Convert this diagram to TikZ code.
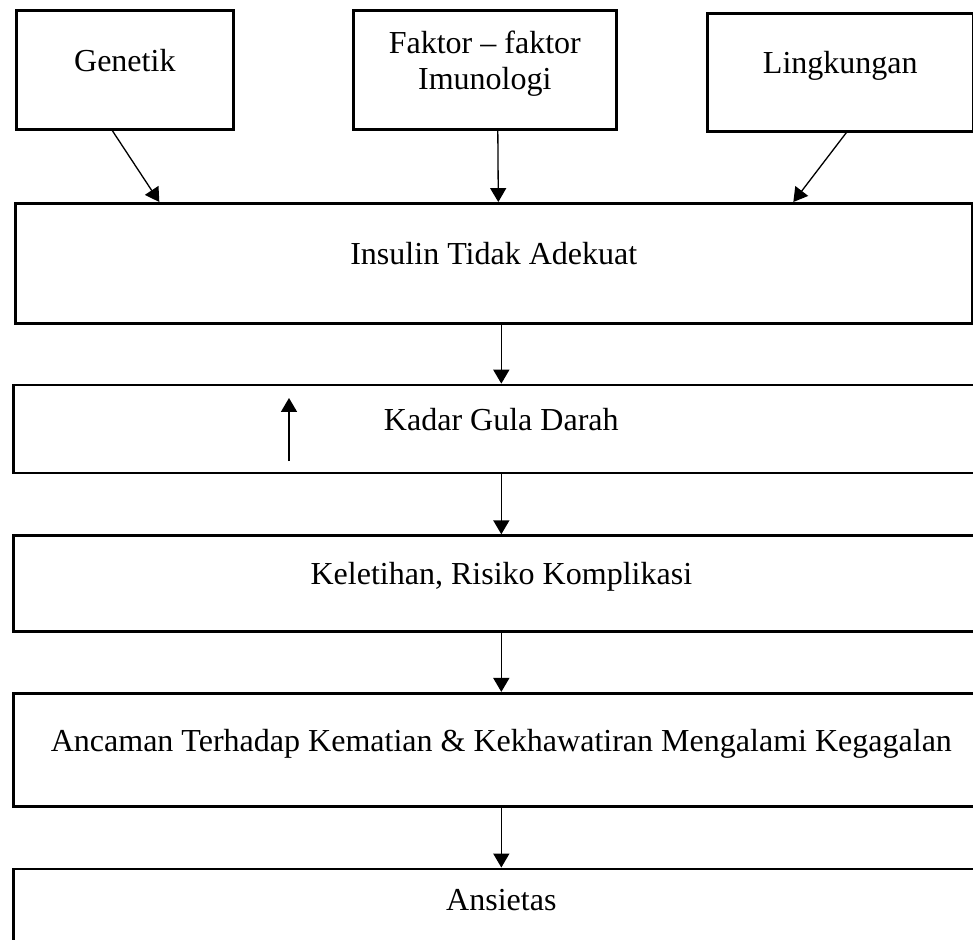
\documentclass[tikz,border=0pt]{standalone}
\usepackage{fontspec}
\setmainfont{Liberation Serif}
\usetikzlibrary{arrows.meta,positioning}
\newlength\px
\setlength\px{0.381pt}

\begin{document}
\begin{tikzpicture}[
    x=0.381pt, y=-0.381pt,
    box/.style={rectangle, draw, line width=1pt, align=center, text depth=7.4pt, font=\fontsize{12.2}{13.8}\selectfont},
    wide/.style={box, minimum width=976\px},
    arrow/.style={-{Triangle[length=5.3pt, width=6.1pt]}, line width=0.5pt}
]
\useasboundingbox (0,0) rectangle (973,939);

\node[box, minimum width=217\px, minimum height=119\px, anchor=north west] (genetik) at (15,9) {Genetik};
\node[box, minimum width=263\px, minimum height=119\px, anchor=north west] (faktor) at (352,9) {Faktor -- faktor\\Imunologi};
\node[box, minimum width=266\px, minimum height=118\px, anchor=north west] (lingkungan) at (706,12) {Lingkungan};
\node[box, minimum width=957\px, minimum height=120\px, anchor=north west] (insulin) at (14,202) {Insulin Tidak Adekuat};
\node[wide, minimum height=88\px, below=59\px of insulin, xshift=2.86pt] (kadar) {Kadar Gula Darah};
\node[wide, minimum height=96\px, below=60\px of kadar] (keletihan) {Keletihan, Risiko Komplikasi};
\node[wide, minimum height=113\px, below=59\px of keletihan] (ancaman) {Ancaman Terhadap Kematian \& Kekhawatiran Mengalami Kegagalan};
\node[wide, minimum height=82\px, below=60\px of ancaman] (ansietas) {Ansietas};

\coordinate (naikbawah) at (289,461);
\coordinate (naikatas) at (289,398);

\draw[arrow] ([xshift=-4.76pt]genetik.south) -- ([xshift=-127.44pt]insulin.north);
\draw[arrow] ([xshift=4.95pt]faktor.south) -- ([xshift=1.71pt]insulin.north);
\draw[arrow] ([xshift=2.29pt]lingkungan.south) -- ([xshift=114.11pt]insulin.north);
\draw[arrow] (kadar.north |- insulin.south) -- (kadar.north);
\draw[arrow] (kadar) -- (keletihan);
\draw[arrow] (keletihan) -- (ancaman);
\draw[arrow] (ancaman) -- (ansietas);
\draw[arrow] (naikbawah) -- (naikatas);
\end{tikzpicture}
\end{document}
